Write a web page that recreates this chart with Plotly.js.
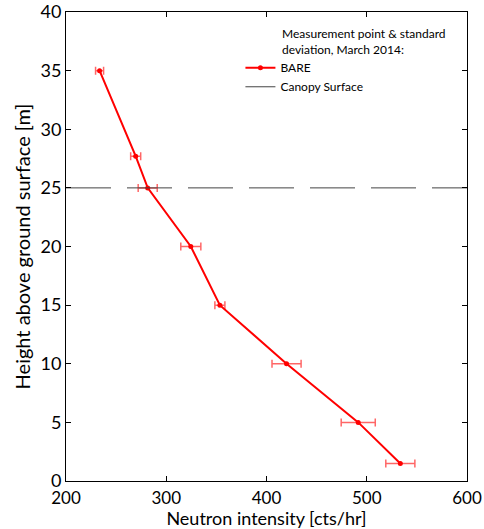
<!DOCTYPE html>
<html>
<head>
<meta charset="utf-8">
<script src="https://cdn.plot.ly/plotly-3.0.1.min.js"></script>
<style>html,body{margin:0;padding:0;background:#fff;}#chart{width:484px;height:529px;}</style>
</head>
<body>
<div id="chart"></div>
<script>
// Data
const heights = [35, 27.7, 25, 20, 15, 10, 5, 1.5];
const intensity = [233.5, 269.5, 281.5, 324.5, 353.5, 420, 491.5, 533.5];
const intensitySD = [4, 5, 9.5, 10, 5, 14.5, 17, 14.5];
const canopyHeight = 25;
const xRange = [200, 600];
const yRange = [0, 40];
const xTicks = [200, 300, 400, 500, 600];
const yTicks = [0, 5, 10, 15, 20, 25, 30, 35, 40];
const seriesName = 'BARE';
const canopyName = 'Canopy Surface';
const legendHeading = 'Measurement point &amp; standard<br>deviation, March 2014:';
const xTitle = 'Neutron intensity [cts/hr]';
const yTitle = 'Height above ground surface [m]';

const FONT = 'Lato, "Open Sans", sans-serif';

const traces = [
  {
    x: intensity, y: heights, name: seriesName, type: 'scatter', mode: 'lines+markers',
    line: {color: '#ff0000', width: 2},
    marker: {color: '#ff0000', size: 5, symbol: 'circle'},
    error_x: {type: 'data', array: intensitySD, visible: true, color: 'rgba(255,0,0,0.6)', thickness: 1.5, width: 4}
  },
  {
    x: xRange, y: [canopyHeight, canopyHeight], name: canopyName, type: 'scatter', mode: 'lines',
    line: {color: '#444444', width: 1, dash: '45px,16px'}
  }
];

const layout = {
  width: 484, height: 529,
  margin: {l: 66, r: 17, t: 12, b: 48},
  paper_bgcolor: '#ffffff', plot_bgcolor: '#ffffff',
  font: {family: FONT, color: '#000000'},
  showlegend: true,
  legend: {
    x: 0.435, xanchor: 'left', y: 0.912, yanchor: 'top',
    bgcolor: 'rgba(0,0,0,0)', font: {size: 12, family: FONT},
    tracegroupgap: 0
  },
  annotations: [{
    text: legendHeading, showarrow: false, xref: 'paper', yref: 'paper',
    x: 0.534, y: 0.975, xanchor: 'left', yanchor: 'top', align: 'left',
    font: {size: 12, family: FONT}
  }],
  xaxis: {
    range: xRange, tickvals: xTicks, ticktext: xTicks.map(String),
    ticks: 'inside', ticklen: 5, tickcolor: '#000', mirror: 'ticks',
    showline: true, linecolor: '#000', linewidth: 1, showgrid: false, zeroline: false,
    tickfont: {size: 17, family: FONT}, ticklabelstandoff: 2,
    title: {text: xTitle, font: {size: 18, family: FONT}, standoff: 5}
  },
  yaxis: {
    range: yRange, tickvals: yTicks, ticktext: yTicks.map(String),
    ticks: 'inside', ticklen: 5, tickcolor: '#000', mirror: 'ticks',
    showline: true, linecolor: '#000', linewidth: 1, showgrid: false, zeroline: false,
    tickfont: {size: 18, family: FONT},
    title: {text: yTitle, font: {size: 20, family: FONT}, standoff: 4}
  }
};

Plotly.newPlot('chart', traces, layout, {displayModeBar: false, staticPlot: true});
</script>
</body>
</html>
